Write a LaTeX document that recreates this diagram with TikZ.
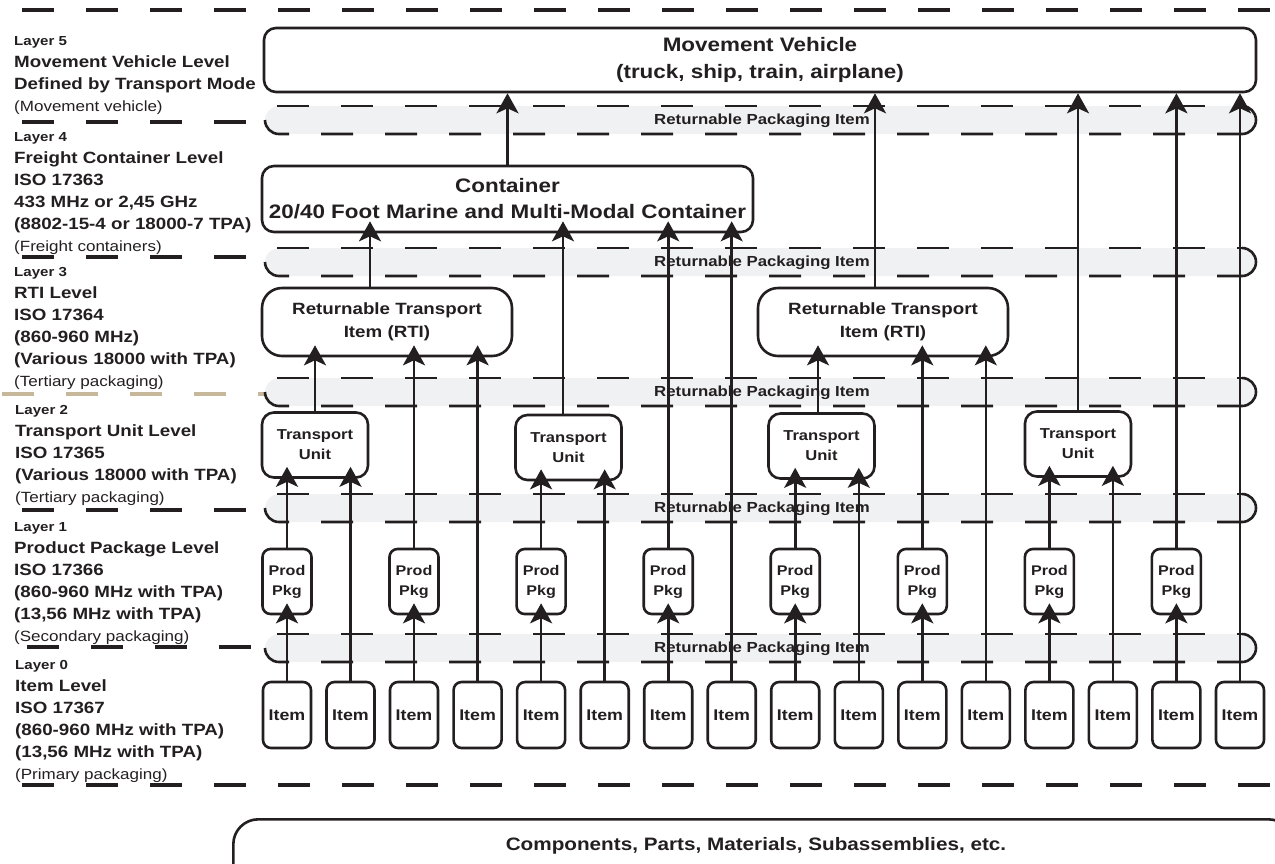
\documentclass[tikz,border=0pt]{standalone}
\usepackage{fontspec}
\setmainfont{Liberation Sans}[FakeStretch=1.15]
\usetikzlibrary{arrows.meta}

\definecolor{ink}{HTML}{231F20}
\definecolor{bandgray}{HTML}{F0F1F2}
\definecolor{layertan}{HTML}{C8B89B}

\begin{document}
\begin{tikzpicture}[x=1pt, y=-1pt,
    box/.style={draw=ink, line width=2.6pt, fill=white, text=ink, align=center, inner sep=1pt},
    mvbox/.style={box, rounded corners=12pt, minimum width=992pt, minimum height=64pt,
        font=\bfseries\fontsize{19.5}{27}\selectfont},
    contbox/.style={box, rounded corners=12pt, minimum width=491pt, minimum height=66pt,
        font=\bfseries\fontsize{19.5}{26}\selectfont},
    rtibox/.style={box, rounded corners=20pt, minimum width=250pt, minimum height=68pt,
        font=\bfseries\fontsize{16.3}{23}\selectfont},
    tubox/.style={box, rounded corners=12pt, minimum width=106pt, minimum height=65pt,
        font=\bfseries\fontsize{14.4}{20}\selectfont},
    ppbox/.style={box, rounded corners=8pt, minimum width=49pt, minimum height=65pt,
        font=\bfseries\fontsize{14}{20}\selectfont},
    itembox/.style={box, rounded corners=8pt, minimum width=48pt, minimum height=66pt,
        font=\bfseries\fontsize{15.5}{18}\selectfont},
    layertext/.style={anchor=north west, align=left, inner sep=0pt, text=ink,
        font=\bfseries\fontsize{16.3}{22}\selectfont},
    bandlabel/.style={inner sep=0pt, text=ink, font=\bfseries\fontsize{14.6}{17}\selectfont},
    sepline/.style={draw=ink, line width=4.3pt, dash pattern=on 32pt off 32pt},
    banddash/.style={draw=ink, line width=2.6pt, dash pattern=on 32pt off 32pt},
    bandline/.style={draw=ink, line width=2.6pt},
    flow/.style={draw=ink, line width=2.6pt, -{Stealth[length=20pt, width=22pt, inset=5pt]},
        shorten >=-12pt},
    flowtop/.style={flow, shorten >=0pt}]

    \useasboundingbox (0,0) rectangle (1275,863);
    \clip (0,0) rectangle (1275,863);

    % Layer separators
    \draw[sepline] (22,10) -- (1275,10);
    \draw[sepline] (22,122) -- (246,122);
    \draw[sepline] (22,257) -- (246,257);
    \draw[sepline, draw=layertan] (2,394) -- (268,394);
    \draw[sepline] (22,510) -- (246,510);
    \draw[sepline] (27,647) -- (251,647);
    \draw[sepline] (22,785) -- (1275,785);

    % Returnable packaging item bands
    \foreach \y/\n in {120/1, 262/2, 392/3, 508/4, 648/5} {
        \fill[bandgray, rounded corners=14pt] (265,\y-14) rectangle (1256,\y+14);
        \draw[banddash] (277,\y-14) -- (1242,\y-14);
        \draw[banddash] (265,\y) arc[start angle=180, end angle=90, radius=14] -- (1242,\y+14);
        \draw[bandline] (1242,\y-14) arc[start angle=-90, end angle=90, radius=14];
        \node[bandlabel] (rpi\n) at (762,\y+1) {Returnable Packaging Item};
    }

    % Layer descriptions
    \node[layertext] (lay5) at (14,36.6) {{\fontsize{13.1}{22}\selectfont Layer 5}\\
        Movement Vehicle Level\\Defined by Transport Mode\\
        {\mdseries\fontsize{14.8}{22}\selectfont (Movement vehicle)}};
    \node[layertext] (lay4) at (14,132.1) {{\fontsize{13.1}{22}\selectfont Layer 4}\\
        Freight Container Level\\ISO 17363\\433 MHz or 2,45 GHz\\(8802-15-4 or 18000-7 TPA)\\
        {\mdseries\fontsize{14.8}{22}\selectfont (Freight containers)}};
    \node[layertext] (lay3) at (14,267.1) {{\fontsize{13.1}{22}\selectfont Layer 3}\\
        RTI Level\\ISO 17364\\(860-960 MHz)\\(Various 18000 with TPA)\\
        {\mdseries\fontsize{14.8}{22}\selectfont (Tertiary packaging)}};
    \node[layertext] (lay2) at (15,405.1) {{\fontsize{13.1}{22}\selectfont Layer 2}\\
        Transport Unit Level\\ISO 17365\\(Various 18000 with TPA)\\
        {\mdseries\fontsize{14.8}{22}\selectfont (Tertiary packaging)}};
    \node[layertext] (lay1) at (14,522.1) {{\fontsize{13.1}{22}\selectfont Layer 1}\\
        Product Package Level\\ISO 17366\\(860-960 MHz with TPA)\\(13,56 MHz with TPA)\\
        {\mdseries\fontsize{14.8}{22}\selectfont (Secondary packaging)}};
    \node[layertext] (lay0) at (15,660.1) {{\fontsize{13.1}{22}\selectfont Layer 0}\\
        Item Level\\ISO 17367\\(860-960 MHz with TPA)\\(13,56 MHz with TPA)\\
        {\mdseries\fontsize{14.8}{22}\selectfont (Primary packaging)}};

    % Upper levels
    \node[mvbox] (mv) at (760,60) {Movement Vehicle\\(truck, ship, train, airplane)};
    \node[contbox] (cont) at (507.5,199) {Container\\20/40 Foot Marine and Multi-Modal Container};
    \node[rtibox] (rti1) at (387,322) {Returnable Transport\\Item (RTI)};
    \node[rtibox] (rti2) at (883,322) {Returnable Transport\\Item (RTI)};

    % Transport units
    \node[tubox] (tu1) at (315,445) {Transport\\Unit};
    \node[tubox] (tu2) at (568.5,447.5) {Transport\\Unit};
    \node[tubox] (tu3) at (821.5,446) {Transport\\Unit};
    \node[tubox] (tu4) at (1078,444) {Transport\\Unit};

    % Product packages
    \node[ppbox] (pp1) at (287,581.5) {Prod\\Pkg};
    \node[ppbox] (pp2) at (414,581.5) {Prod\\Pkg};
    \node[ppbox] (pp3) at (541.1,581.5) {Prod\\Pkg};
    \node[ppbox] (pp4) at (668.2,581.5) {Prod\\Pkg};
    \node[ppbox] (pp5) at (795.2,581.5) {Prod\\Pkg};
    \node[ppbox] (pp6) at (922.3,581.5) {Prod\\Pkg};
    \node[ppbox] (pp7) at (1049.4,581.5) {Prod\\Pkg};
    \node[ppbox] (pp8) at (1176.4,581.5) {Prod\\Pkg};

    % Items
    \node[itembox] (item1) at (287,715) {Item};
    \node[itembox] (item2) at (350.5,715) {Item};
    \node[itembox] (item3) at (414,715) {Item};
    \node[itembox] (item4) at (477.6,715) {Item};
    \node[itembox] (item5) at (541.1,715) {Item};
    \node[itembox] (item6) at (604.7,715) {Item};
    \node[itembox] (item7) at (668.2,715) {Item};
    \node[itembox] (item8) at (731.7,715) {Item};
    \node[itembox] (item9) at (795.2,715) {Item};
    \node[itembox] (item10) at (858.8,715) {Item};
    \node[itembox] (item11) at (922.3,715) {Item};
    \node[itembox] (item12) at (985.8,715) {Item};
    \node[itembox] (item13) at (1049.4,715) {Item};
    \node[itembox] (item14) at (1112.9,715) {Item};
    \node[itembox] (item15) at (1176.4,715) {Item};
    \node[itembox] (item16) at (1240,715) {Item};

    % Base level
    \node[box, rounded corners=25pt, minimum width=1060pt, minimum height=80pt, anchor=north west]
        (parts) at (232,818) {};
    \node[text=ink, font=\bfseries\fontsize{18}{22}\selectfont] (partstext) at (756,846)
        {Components, Parts, Materials, Subassemblies, etc.};

    % Tie points off centre
    \coordinate (tu2top) at ([xshift=-5.5pt]tu2.north);
    \coordinate (tu3top) at ([xshift=-3.5pt]tu3.north);
    \coordinate (rti1top) at ([xshift=-17pt]rti1.north);
    \coordinate (rti2top) at ([xshift=-8pt]rti2.north);

    % Connectors
    \foreach \a/\b in {item1/pp1, item3/pp2, item5/pp3, item7/pp4, item9/pp5, item11/pp6,
        item13/pp7, item15/pp8, item2/tu1, item6/tu2, item10/tu3, item14/tu4,
        pp1/tu1, pp3/tu2, pp5/tu3, pp7/tu4, item4/rti1, pp2/rti1, tu1/rti1,
        item12/rti2, pp6/rti2, item8/cont, pp4/cont}
        \draw[flow] (\a.north) -- (\a.north |- \b.south);
    \draw[flow] (tu3top) -- (tu3top |- rti2.south);
    \draw[flow] (tu2top) -- (tu2top |- cont.south);
    \draw[flow] (rti1top) -- (rti1top |- cont.south);
    \foreach \a in {item16, pp8, tu4, cont}
        \draw[flowtop] (\a.north) -- (\a.north |- mv.south);
    \draw[flowtop] (rti2top) -- (rti2top |- mv.south);
\end{tikzpicture}
\end{document}
